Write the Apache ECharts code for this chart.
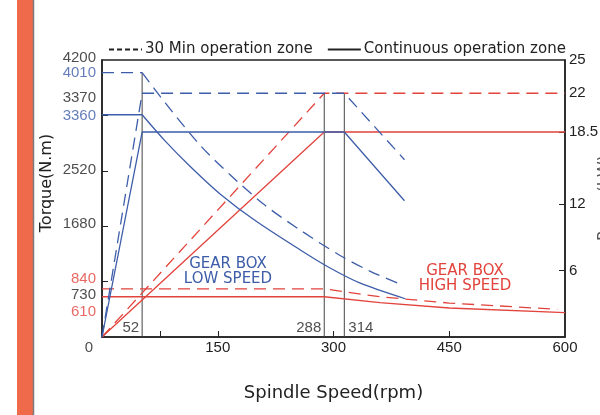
<!DOCTYPE html>
<html>
<head>
<meta charset="utf-8">
<script src="https://cdn.jsdelivr.net/npm/echarts@6/dist/echarts.min.js"></script>
<style>
  html, body { margin: 0; padding: 0; background: #fff; }
  #chart { width: 600px; height: 415px; }
</style>
</head>
<body>
<div id="chart"></div>
<script>
// Speeds (rpm) where the operating regions change
const cornerSpeeds = [52, 288, 314];

// Gear box low speed: torque (N.m) against spindle speed (rpm)
const lowTorque30 = [[0, 4010], [52, 4010], [82, 3550], [127, 2910], [166, 2460], [211, 2000], [257, 1620], [308, 1240], [347, 1000], [385, 810]];
const lowTorqueCont = [[0, 3370], [52, 3370], [82, 2970], [114, 2590], [153, 2170], [198, 1770], [257, 1320], [295, 1050], [334, 820], [393, 580]];
// Gear box low speed: power (kW)
const lowPower30 = [[0, 0], [52, 22], [314, 22], [392, 16]];
const lowPowerCont = [[0, 0], [52, 18.5], [314, 18.5], [392, 12.3]];

// Gear box high speed: torque (N.m)
const highTorque30 = [[0, 730], [288, 730], [360, 610], [450, 515], [590, 420]];
const highTorqueCont = [[0, 610], [288, 610], [360, 520], [450, 440], [600, 370]];
// Gear box high speed: power (kW)
const highPower30 = [[0, 0], [288, 22], [600, 22]];
const highPowerCont = [[0, 0], [288, 18.5], [600, 18.5]];

// Axis ticks and labels
const torqueTickValues = [840, 1680, 2520, 3360];
const torqueLabelValues = [4200, 4010, 3370, 3360, 2520, 1680, 840, 730, 610, 0];
const powerTickValues = [6, 12, 18.5];
const powerLabelValues = [6, 12, 18.5, 22, 25];
const speedTickValues = [75, 150, 300, 450];
const speedLabelValues = [150, 300, 450, 600];

const BLUE = '#3d5da9';
const RED = '#e2433c';
const INK = '#222';
const NUM_FONT = 'Liberation Sans';
const TEXT_FONT = 'DejaVu Sans';

// colour and nudge of each torque label, so close values stay readable
const torqueLabelLook = {
  4200: { color: INK, dy: -2 },
  4010: { color: BLUE, dy: 0 },
  3370: { color: INK, dy: -17 },
  3360: { color: BLUE, dy: 0 },
  2520: { color: INK, dy: -1 },
  1680: { color: INK, dy: -2 },
  840: { color: RED, dy: -3 },
  730: { color: INK, dy: 6 },
  610: { color: RED, dy: 15 },
  0: { color: INK, dy: 11, dx: -3 }
};

const dashed = [12, 7];

function curve(name, data, color, yAxisIndex, type) {
  return {
    name: name,
    type: 'line',
    data: data,
    yAxisIndex: yAxisIndex,
    symbol: 'none',
    silent: true,
    lineStyle: { color: color, width: 1.3, type: type === 'dash' ? dashed : 'solid' },
    z: color === BLUE ? 4 : 3
  };
}

// flat part and falling part of a torque curve, so the corner stays sharp
function torqueParts(name, data, color, type) {
  const flat = curve(name + ' flat', data.slice(0, 2), color, 0, type);
  const fall = curve(name + ' fall', data.slice(1), color, 0, type);
  fall.smooth = 0.3;
  return [flat, fall];
}

const series = [
  curve('high power 30', highPower30, RED, 1, 'dash'),
  curve('high power cont', highPowerCont, RED, 1, 'solid'),
  curve('high torque 30', highTorque30, RED, 0, 'dash'),
  curve('high torque cont', highTorqueCont, RED, 0, 'solid'),
  ...torqueParts('low torque 30', lowTorque30, BLUE, 'dash'),
  ...torqueParts('low torque cont', lowTorqueCont, BLUE, 'solid'),
  curve('low power 30', lowPower30, BLUE, 1, 'dash'),
  curve('low power cont', lowPowerCont, BLUE, 1, 'solid')
];

// vertical guides at the corner speeds
series.push({
  type: 'line', symbol: 'none', silent: true, yAxisIndex: 0,
  data: [[cornerSpeeds[0], 0], [cornerSpeeds[0], lowTorque30[1][1]]],
  lineStyle: { color: '#444', width: 1 }, z: 2
});
[cornerSpeeds[1], cornerSpeeds[2]].forEach(function (s) {
  series.push({
    type: 'line', symbol: 'none', silent: true, yAxisIndex: 1,
    data: [[s, 0], [s, highPower30[1][1]]],
    lineStyle: { color: '#444', width: 1 }, z: 2
  });
});

// corner speed labels just above the speed axis
series.push({
  type: 'scatter', silent: true, clip: false, symbolSize: 0, yAxisIndex: 0,
  data: cornerSpeeds.map(function (s, i) {
    const right = i === 2;
    return {
      value: [s, 0],
      label: {
        position: right ? [4, -2] : [-3, -2],
        align: right ? 'left' : 'right'
      }
    };
  }),
  label: {
    show: true, verticalAlign: 'bottom',
    formatter: function (p) { return String(p.value[0]); },
    fontFamily: NUM_FONT, fontSize: 15, color: INK
  },
  z: 6
});

// torque labels along the left axis
series.push({
  type: 'scatter', silent: true, clip: false, symbolSize: 0, yAxisIndex: 0,
  data: torqueLabelValues.map(function (v) {
    const look = torqueLabelLook[v];
    return {
      value: [0, v],
      label: { color: look.color, offset: [look.dx || 0, look.dy] }
    };
  }),
  label: {
    show: true, position: 'left', distance: 6,
    formatter: function (p) { return String(p.value[1]); },
    fontFamily: NUM_FONT, fontSize: 15
  },
  z: 6
});

// legend entries
series.push({
  name: '30 Min operation zone', type: 'line', data: [], symbol: 'none',
  lineStyle: { color: INK, width: 2, type: [5, 3] }, itemStyle: { color: INK }
});
series.push({
  name: 'Continuous operation zone', type: 'line', data: [], symbol: 'none',
  lineStyle: { color: INK, width: 2 }, itemStyle: { color: INK }
});

const chart = echarts.init(document.getElementById('chart'), null, { renderer: 'canvas' });

chart.setOption({
  animation: false,
  backgroundColor: '#fff',
  graphic: [
    { type: 'rect', shape: { x: 17, y: 0, width: 16, height: 415 }, style: { fill: '#ef6a4b' }, z: -1 },
    { type: 'line', shape: { x1: 33.5, y1: 0, x2: 33.5, y2: 415 }, style: { stroke: '#7a7a7a', lineWidth: 1.5 }, z: -1 },
    {
      type: 'text', x: 47, y: 183, rotation: Math.PI / 2,
      style: { text: 'Torque(N.m)', fill: INK, font: '16px "DejaVu Sans"', textAlign: 'center', textVerticalAlign: 'middle' }
    },
    // power axis title, running off the right edge of the page
    {
      type: 'text', x: 605, y: 198, rotation: Math.PI / 2,
      style: { text: 'Power(kW)', fill: '#555', font: '16px "DejaVu Sans"', textAlign: 'center', textVerticalAlign: 'middle' }
    },
    {
      type: 'text', x: 228, y: 272,
      style: { text: 'GEAR BOX\nLOW SPEED', fill: BLUE, font: '15px "DejaVu Sans"', textAlign: 'center', textVerticalAlign: 'middle', lineHeight: 15 }
    },
    {
      type: 'text', x: 465, y: 279,
      style: { text: 'GEAR BOX\nHIGH SPEED', fill: RED, font: '15px "DejaVu Sans"', textAlign: 'center', textVerticalAlign: 'middle', lineHeight: 15 }
    }
  ],
  legend: {
    left: 103, top: 37,
    itemWidth: 33, itemHeight: 12, itemGap: 14,
    selectedMode: false,
    itemStyle: { opacity: 0, borderWidth: 0 },
    data: ['30 Min operation zone', 'Continuous operation zone'],
    textStyle: { fontFamily: TEXT_FONT, fontSize: 15, color: INK, padding: [0, 0, 0, -2] }
  },
  grid: {
    left: 102, right: 35, top: 60, bottom: 78,
    outerBoundsMode: 'none', containLabel: false,
    show: true, borderColor: INK, borderWidth: 1.5, backgroundColor: 'transparent'
  },
  xAxis: {
    type: 'value', min: 0, max: 600,
    name: 'Spindle Speed(rpm)', nameLocation: 'middle', nameGap: 47,
    nameTextStyle: { fontFamily: TEXT_FONT, fontSize: 18, color: INK },
    axisLine: { lineStyle: { color: INK, width: 1.5 } },
    axisTick: { inside: true, length: 6, customValues: speedTickValues, lineStyle: { color: INK } },
    axisLabel: { customValues: speedLabelValues, margin: 3, fontFamily: NUM_FONT, fontSize: 15, color: INK },
    splitLine: { show: false }
  },
  yAxis: [
    {
      type: 'value', min: 0, max: 4200, position: 'left',
      axisLine: { show: true, lineStyle: { color: INK, width: 1.5 } },
      axisTick: { show: true, inside: true, length: 6, customValues: torqueTickValues, lineStyle: { color: INK } },
      axisLabel: { show: false },
      splitLine: { show: false }
    },
    {
      type: 'value', min: 0, max: 25, position: 'right',
      axisLine: { show: true, lineStyle: { color: INK, width: 1.5 } },
      axisTick: { show: true, inside: true, length: 6, customValues: powerTickValues, lineStyle: { color: INK } },
      axisLabel: { customValues: powerLabelValues, margin: 4, fontFamily: NUM_FONT, fontSize: 15, color: INK },
      splitLine: { show: false }
    }
  ],
  series: series
});
</script>
</body>
</html>
